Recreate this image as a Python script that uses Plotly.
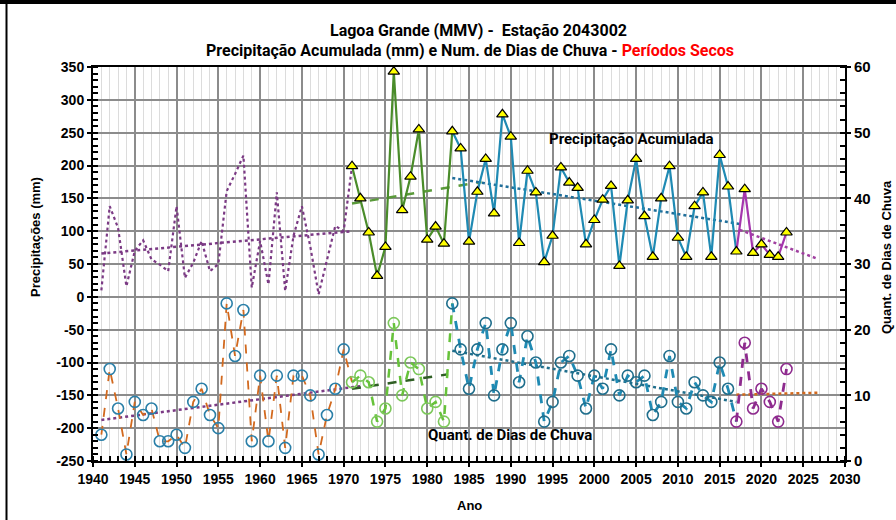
import plotly.graph_objects as go

# ---------------- data ----------------
years = list(range(1941, 2024))

precip_mm = [10, 138, 105, 16, 70, 86, 57, 49, 39, 138,      # 1941-1950
             29, 52, 85, 39, 50, 161, 187, 215, 14, 85,       # 1951-1960
             19, 159, 9, 93, 138, 77, 4, 57, 108, 100,        # 1961-1970
             199, 150, 98, 32, 76, 343, 132, 183, 255, 87,    # 1971-1980
             107, 81, 252, 226, 84, 160, 210, 127, 278, 244,  # 1981-1990
             82, 192, 159, 53, 93, 197, 174, 166, 80, 117,    # 1991-2000
             148, 169, 47, 147, 210, 123, 61, 150, 199, 90,   # 2001-2010
             61, 138, 159, 61, 216, 168, 69, 164, 67, 80,     # 2011-2020
             64, 61, 98]                                      # 2021-2023

rain_days = [4, 14, 8, 1, 9, 7, 8, 3, 3, 4,       # 1941-1950
             2, 9, 11, 7, 5, 24, 16, 23, 3, 13,   # 1951-1960
             3, 13, 2, 13, 13, 10, 1, 7, 11, 17,  # 1961-1970
             12, 13, 12, 6, 8, 21, 10, 15, 14, 8, # 1971-1980
             9, 6, 24, 17, 11, 17, 21, 10, 17, 21,# 1981-1990
             12, 19, 15, 6, 9, 15, 16, 13, 8, 13, # 1991-2000
             11, 17, 10, 13, 12, 13, 7, 9, 16, 9, # 2001-2010
             8, 12, 10, 9, 15, 11, 6, 18, 8, 11,  # 2011-2020
             9, 6, 14]                            # 2021-2023

# trend lines (end points)
trend_up_p1_x, trend_up_p1_y = [1941, 1971], [66, 100]
trend_up_g_x, trend_up_g_y = [1971, 1986.5], [142, 175]
trend_up_b_x, trend_up_b_y = [1983, 2017.4], [181, 111]
trend_up_p2_x, trend_up_p2_y = [2017.4, 2026.7], [102, 58]

trend_lo_p_x, trend_lo_p_y = [1941, 1972], [6.25, 11.4]
trend_lo_g_x, trend_lo_g_y = [1971, 1982.5], [11.0, 13.2]
trend_lo_b_x, trend_lo_b_y = [1983, 2017], [16.8, 9.0]
trend_lo_o_x, trend_lo_o_y = [2017, 2026.8], [10.1, 10.4]

x_ticks = list(range(1940, 2031, 5))
left_ticks = list(range(-250, 351, 50))
right_ticks = list(range(0, 61, 10))


def seg(vals, y0, y1):
    idx = [i for i, y in enumerate(years) if y0 <= y <= y1]
    return [years[i] for i in idx], [vals[i] for i in idx]


fig = go.Figure()

def up_line(y0, y1, color, dash, width):
    xs, ys = seg(precip_mm, y0, y1)
    fig.add_trace(go.Scatter(x=xs, y=ys, mode="lines", yaxis="y",
                             line=dict(color=color, dash=dash, width=width),
                             hoverinfo="skip", showlegend=False))

def lo_line(y0, y1, color, dash, width):
    xs, ys = seg(rain_days, y0, y1)
    fig.add_trace(go.Scatter(x=xs, y=ys, mode="lines", yaxis="y2",
                             line=dict(color=color, dash=dash, width=width),
                             hoverinfo="skip", showlegend=False))

def trend(xs, ys, axis, color, dash, width):
    fig.add_trace(go.Scatter(x=xs, y=ys, mode="lines", yaxis=axis,
                             line=dict(color=color, dash=dash, width=width),
                             hoverinfo="skip", showlegend=False))

# trends first (below data)
trend(trend_up_p1_x, trend_up_p1_y, "y", "#7b3a84", "dot", 2.5)
trend(trend_up_g_x, trend_up_g_y, "y", "#5a9a3a", "dash", 2.5)
trend(trend_up_b_x, trend_up_b_y, "y", "#1f6e9a", "dot", 2.5)
trend(trend_up_p2_x, trend_up_p2_y, "y", "#a040a0", "dot", 2.5)

trend(trend_lo_p_x, trend_lo_p_y, "y2", "#7b3a84", "dot", 2.5)
trend(trend_lo_g_x, trend_lo_g_y, "y2", "#2f5f24", "dash", 2.5)
trend(trend_lo_b_x, trend_lo_b_y, "y2", "#1f6e8c", "dot", 2.5)
trend(trend_lo_o_x, trend_lo_o_y, "y2", "#d2691e", "dot", 2.5)

up_line(1941, 1971, "#7b3a84", "dot", 2.2)
up_line(1971, 1983, "#4a8c2a", "solid", 2.2)
up_line(1983, 2017, "#1f8ab3", "solid", 2.2)
up_line(2017, 2023, "#a535ad", "solid", 2.2)

lo_line(1941, 1971, "#d2691e", "dash", 1.8)
lo_line(1971, 1983, "#66c23a", "dash", 2.5)
lo_line(1983, 2017, "#1f8ab3", "dash", 2.8)
lo_line(2017, 2023, "#8e2b8e", "dash", 2.8)

# markers
xs, ys = seg(precip_mm, 1971, 2023)
fig.add_trace(go.Scatter(x=xs, y=ys, mode="markers", yaxis="y",
                         marker=dict(symbol="triangle-up", size=10, color="#ffff00",
                                     line=dict(color="#000000", width=1.2)),
                         hoverinfo="skip", showlegend=False))

def lo_markers(y0, y1, color):
    xs, ys = seg(rain_days, y0, y1)
    fig.add_trace(go.Scatter(x=xs, y=ys, mode="markers", yaxis="y2",
                             marker=dict(symbol="circle-open", size=11, color=color,
                                         line=dict(color=color, width=1.6)),
                             hoverinfo="skip", showlegend=False))

lo_markers(1941, 1970, "#2a7fa8")
lo_markers(1971, 1982, "#7cc85a")
lo_markers(1983, 2016, "#1f6e8c")
lo_markers(2017, 2023, "#8e2b8e")

# ---------------- layout ----------------
L, R, T, B = 93, 51, 67, 59
W, H = 896, 520
PW, PH = W - L - R, H - T - B

def px(x):
    return (x - L) / PW

def py(y):
    return (H - B - y) / PH

tick_font = dict(family="Liberation Sans, Arial, sans-serif", size=14, color="#000000", weight="bold")
title_font = dict(family="Roboto, Liberation Sans, sans-serif", size=16, color="#000000", weight="bold")
label_font = dict(family="Roboto, Liberation Sans, sans-serif", size=15, color="#000000", weight="bold")
axis_title_font = dict(family="Liberation Sans, Arial, sans-serif", size=13, color="#000000", weight="bold")

fig.update_layout(
    width=W, height=H,
    margin=dict(l=L, r=R, t=T, b=B),
    paper_bgcolor="#ffffff", plot_bgcolor="#ffffff",
    showlegend=False,
    xaxis=dict(range=[1940, 2030], tickvals=x_ticks, ticktext=[str(v) for v in x_ticks],
               showgrid=True, gridcolor="#8c8c8c", gridwidth=1.5,
               showline=True, linecolor="#000000", linewidth=2, mirror=True,
               ticks="outside", ticklen=4, tickcolor="#000000", tickwidth=1.5,
               tickfont=tick_font, zeroline=False,
               minor=dict(dtick=1, showgrid=True, gridcolor="#dcdcdc", gridwidth=1,
                          ticks="inside", ticklen=5, tickcolor="#000000", tickwidth=1.5)),
    yaxis=dict(range=[-250, 350], tickvals=left_ticks, ticktext=[str(v) for v in left_ticks],
               showgrid=True, gridcolor="#8c8c8c", gridwidth=1.5,
               showline=True, linecolor="#000000", linewidth=2,
               ticks="outside", ticklen=4, tickcolor="#000000", tickwidth=1.5,
               tickfont=tick_font, zeroline=False,
               minor=dict(dtick=10, showgrid=False, ticks="inside", ticklen=5,
                          tickcolor="#000000", tickwidth=1.5)),
    yaxis2=dict(range=[0, 60], tickvals=right_ticks, ticktext=[str(v) for v in right_ticks],
                overlaying="y", side="right", showgrid=False, zeroline=False,
                showline=True, linecolor="#000000", linewidth=2,
                ticks="outside", ticklen=4, tickcolor="#000000", tickwidth=1.5,
                tickfont=dict(family="Liberation Sans, Arial, sans-serif", size=15,
                              color="#000000", weight="bold"),
                minor=dict(dtick=2, showgrid=False, ticks="inside", ticklen=5,
                           tickcolor="#000000", tickwidth=1.5)),
)

annotations = [
    dict(x=px(478), y=py(30), text="Lagoa Grande (MMV) -\u00a0 Estação 2043002",
         font=title_font),
    dict(x=px(470), y=py(50),
         text="Precipitação Acumulada (mm) e Num. de Dias de Chuva - "
              "<span style='color:#ff0000'>Períodos Secos</span>",
         font=title_font),
    dict(x=px(631), y=py(139), text="Precipitação Acumulada", font=label_font),
    dict(x=px(510), y=py(435), text="Quant. de Dias de Chuva", font=label_font),
    dict(x=px(36), y=py(237), text="Precipitações (mm)", textangle=-90, font=axis_title_font),
    dict(x=px(886), y=py(257), text="Quant. de Dias de Chuva", textangle=-90, font=axis_title_font),
    dict(x=px(469), y=py(505), text="Ano", font=axis_title_font),
]
for a in annotations:
    a.update(xref="paper", yref="paper", showarrow=False, xanchor="center", yanchor="middle")
fig.update_layout(annotations=annotations)

# outer frame lines of the picture
fig.add_shape(type="line", xref="paper", yref="paper", x0=px(0), x1=px(896), y0=py(2), y1=py(2),
              line=dict(color="#000000", width=4))
fig.add_shape(type="line", xref="paper", yref="paper", x0=px(6.5), x1=px(6.5), y0=py(2), y1=py(520),
              line=dict(color="#000000", width=2))

fig.write_html("out.html", config={"displayModeBar": False},
               post_script="document.body.style.margin='0';document.body.style.overflow='hidden';")
